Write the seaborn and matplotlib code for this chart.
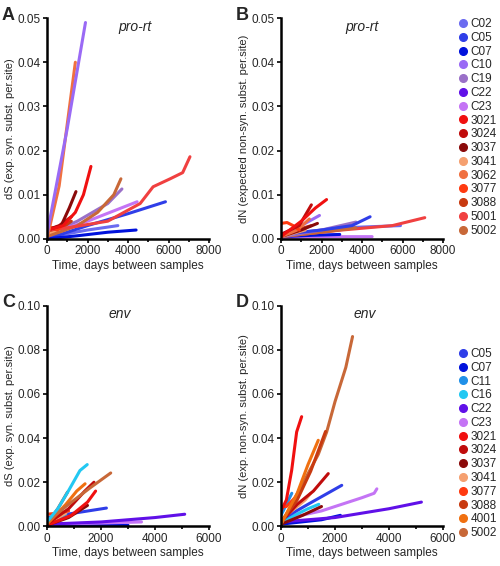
import pandas as pd
import seaborn as sns
import matplotlib.pyplot as plt
from matplotlib.lines import Line2D
from matplotlib.ticker import FormatStrFormatter, MultipleLocator

# Colours per patient
colours = {
    "C02": "#6b6bf0", "C05": "#2f3ee8", "C07": "#0012dc", "C10": "#9a6af5",
    "C11": "#2090e8", "C16": "#22c8f2", "C19": "#9a70c8", "C22": "#6010e8",
    "C23": "#c474f5", "3021": "#f01010", "3024": "#c00c0c", "3037": "#8a0a0a",
    "3041": "#f5a070", "3062": "#f07040", "3077": "#ff3a10", "3088": "#c83a10",
    "4001": "#f07010", "5001": "#f04040", "5002": "#c86838",
}

prort_ids = ["C02", "C05", "C07", "C10", "C19", "C22", "C23", "3021", "3024",
             "3037", "3041", "3062", "3077", "3088", "5001", "5002"]
env_ids = ["C05", "C07", "C11", "C16", "C22", "C23", "3021", "3024", "3037",
           "3041", "3077", "3088", "4001", "5002"]

# pro-rt, dS : (days, dS) per patient
prort_ds = {
    "C02": ([0, 2000, 3500], [0.0003, 0.002, 0.003]),
    "C05": ([0, 2000, 4000, 5850], [0.0, 0.003, 0.0057, 0.0084]),
    "C07": ([0, 1500, 3000, 4400], [0.0, 0.0007, 0.0015, 0.002]),
    "C19": ([0, 1500, 3000, 3700], [0.001, 0.004, 0.008, 0.0113]),
    "C23": ([0, 2000, 4450], [0.001, 0.004, 0.0084]),
    "3088": ([0, 600, 1200], [0.0015, 0.002, 0.004]),
    "3041": ([0, 800], [0.001, 0.002]),
    "5002": ([0, 1500, 2500, 3300, 3650], [0.0005, 0.003, 0.006, 0.010, 0.0136]),
    "5001": ([0, 1000, 3000, 4600, 5240, 6080, 6700, 7060],
             [0.002, 0.0025, 0.004, 0.008, 0.0118, 0.0136, 0.015, 0.0186]),
    "3077": ([0, 500, 1000], [0.003, 0.002, 0.004]),
    "3024": ([0, 600, 1200], [0.002, 0.003, 0.005]),
    "3037": ([0, 700, 1100, 1430], [0.002, 0.003, 0.007, 0.0107]),
    "3021": ([0, 800, 1400, 1800, 2170], [0.002, 0.003, 0.006, 0.010, 0.0164]),
    "3062": ([0, 600, 1000, 1400], [0.0, 0.012, 0.026, 0.040]),
    "C10": ([0, 1000, 1900], [0.001, 0.025, 0.049]),
}

# pro-rt, dN
prort_dn = {
    "C23": ([0, 2500, 4500], [0.0003, 0.0005, 0.0005]),
    "C07": ([0, 1500, 2900], [0.0005, 0.0008, 0.001]),
    "C02": ([0, 3000, 5900], [0.001, 0.0025, 0.003]),
    "5001": ([0, 3000, 5500, 7100], [0.0005, 0.002, 0.003, 0.0048]),
    "5002": ([0, 2000, 3700], [0.0005, 0.0015, 0.0025]),
    "C19": ([0, 2000, 3700], [0.0005, 0.002, 0.0038]),
    "C05": ([0, 2000, 3500, 4400], [0.001, 0.002, 0.003, 0.005]),
    "3041": ([0, 1200], [0.0005, 0.002]),
    "3088": ([0, 1500], [0.001, 0.003]),
    "3037": ([0, 1000, 1800], [0.0005, 0.002, 0.0035]),
    "C10": ([0, 1000, 1900], [0.001, 0.003, 0.0053]),
    "3062": ([0, 800, 1400], [0.0005, 0.002, 0.0045]),
    "3077": ([0, 300, 600, 900], [0.0035, 0.0037, 0.003, 0.002]),
    "3024": ([0, 900, 1500], [0.001, 0.003, 0.0077]),
    "3021": ([0, 1000, 1700, 2250], [0.0005, 0.004, 0.007, 0.0089]),
}

# env, dS
env_ds = {
    "C07": ([0, 1500, 3000], [0.0, 0.0008, 0.0005]),
    "C23": ([0, 2000, 3500], [0.001, 0.0015, 0.002]),
    "C22": ([0, 2000, 4000, 5100], [0.001, 0.002, 0.004, 0.0055]),
    "C05": ([0, 1000, 2200], [0.004, 0.006, 0.0083]),
    "C11": ([0, 700], [0.002, 0.005]),
    "3041": ([0, 700], [0.001, 0.006]),
    "3077": ([0, 400, 800], [0.0055, 0.006, 0.007]),
    "3037": ([0, 800, 1500], [0.0005, 0.004, 0.0095]),
    "3021": ([0, 900, 1500, 1800], [0.0005, 0.005, 0.011, 0.016]),
    "3088": ([0, 400, 760], [0.001, 0.008, 0.0155]),
    "3024": ([0, 800, 1400, 1740], [0.001, 0.008, 0.016, 0.020]),
    "4001": ([0, 700, 1100, 1410], [0.001, 0.010, 0.016, 0.0193]),
    "5002": ([0, 800, 1590, 2360], [0.002, 0.010, 0.0174, 0.0242]),
    "C16": ([0, 400, 790, 1220, 1490], [0.002, 0.008, 0.016, 0.0253, 0.028]),
}

# env, dN
env_dn = {
    "C07": ([0, 1500, 2200], [0.001, 0.003, 0.005]),
    "C22": ([0, 2000, 4000, 5200], [0.002, 0.004, 0.008, 0.011]),
    "C23": ([0, 1500, 3000, 3450, 3550], [0.003, 0.007, 0.013, 0.015, 0.017]),
    "C16": ([0, 1000, 1400], [0.002, 0.008, 0.010]),
    "C11": ([0, 400], [0.005, 0.015]),
    "3037": ([0, 800, 1500], [0.001, 0.005, 0.009]),
    "C05": ([0, 1000, 2250], [0.003, 0.010, 0.0186]),
    "3041": ([0, 900, 1100], [0.003, 0.012, 0.015]),
    "3077": ([0, 200, 600], [0.009, 0.009, 0.014]),
    "3024": ([0, 600, 1200, 1750], [0.002, 0.010, 0.016, 0.0239]),
    "5002": ([0, 1380, 1690, 2000, 2400, 2650],
             [0.001, 0.0326, 0.0427, 0.0565, 0.072, 0.086]),
    "3088": ([0, 600, 1100, 1650], [0.002, 0.012, 0.025, 0.043]),
    "4001": ([0, 600, 1000, 1380], [0.001, 0.015, 0.028, 0.039]),
    "3021": ([0, 200, 395, 580, 765], [0.007, 0.012, 0.0254, 0.0428, 0.0497]),
}


def to_frame(series):
    rows = []
    for pid, (xs, ys) in series.items():
        for x, y in zip(xs, ys):
            rows.append({"patient": pid, "days": x, "value": y})
    return pd.DataFrame(rows)


sns.set_theme(style="ticks")
plt.rcParams["font.family"] = ["Liberation Sans", "DejaVu Sans"]

fig = plt.figure(figsize=(5.0, 5.66), dpi=100)
w, h = 0.324, 0.39
ax_a = fig.add_axes([0.094, 0.578, w, h])
ax_b = fig.add_axes([0.562, 0.578, w, h])
ax_c = fig.add_axes([0.094, 0.07, w, h])
ax_d = fig.add_axes([0.562, 0.07, w, h])

panels = [
    (ax_a, prort_ds, "dS (exp. syn. subst. per.site)", "pro-rt", 8000, 0.05, 0.01, "A", 0.54),
    (ax_b, prort_dn, "dN (expected non-syn. subst. per.site)", "pro-rt", 8000, 0.05, 0.01, "B", 0.5),
    (ax_c, env_ds, "dS (exp. syn. subst. per.site)", "env", 6000, 0.10, 0.02, "C", 0.45),
    (ax_d, env_dn, "dN (exp. non-syn. subst. per.site)", "env", 6000, 0.10, 0.02, "D", 0.52),
]

for ax, series, ylab, gene, xmax, ymax, ystep, letter, tx in panels:
    df = to_frame(series)
    sns.lineplot(data=df, x="days", y="value", hue="patient", palette=colours,
                 hue_order=list(series.keys()), estimator=None, sort=False,
                 linewidth=2.2, legend=False, ax=ax, clip_on=True)
    ax.set_xlim(0, xmax)
    ax.set_ylim(0, ymax)
    ax.xaxis.set_major_locator(MultipleLocator(2000))
    ax.xaxis.set_minor_locator(MultipleLocator(1000))
    ax.yaxis.set_major_locator(MultipleLocator(ystep))
    ax.yaxis.set_major_formatter(FormatStrFormatter("%.2f"))
    ax.tick_params(axis="both", which="major", direction="out", length=3,
                   width=1.2, labelsize=8.5, pad=1.5, color="black")
    ax.tick_params(axis="x", which="minor", direction="out", length=2.5,
                   width=1.2, color="black")
    for s in ["left", "bottom"]:
        ax.spines[s].set_linewidth(1.8)
        ax.spines[s].set_color("black")
    sns.despine(ax=ax)
    ax.set_xlabel("Time, days between samples", fontsize=8.5, labelpad=2)
    ax.set_ylabel(ylab, fontsize=8, labelpad=2)
    ax.text(tx, 0.96, gene, transform=ax.transAxes, ha="center", va="center",
            fontsize=10, style="italic")
    pos = ax.get_position()
    fig.text(pos.x0 - 0.09, pos.y1 + 0.02, letter, fontsize=13,
             fontweight="bold", ha="left", va="top")


def make_legend(ids, anchor_y):
    handles = [Line2D([], [], marker="o", ls="", color=colours[p],
                      markersize=5.5, label=p) for p in ids]
    fig.legend(handles=handles, loc="upper left",
               bbox_to_anchor=(0.915, anchor_y), frameon=False,
               fontsize=8.5, handletextpad=0.1, labelspacing=0.15,
               borderpad=0, handlelength=1.0, borderaxespad=0)


make_legend(prort_ids, 0.968)
make_legend(env_ids, 0.385)

fig.savefig("out.png", dpi=100)
